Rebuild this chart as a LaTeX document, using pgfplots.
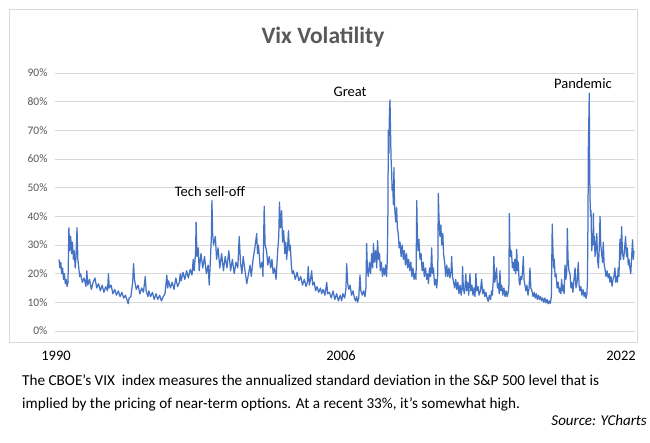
\documentclass[border=0pt]{standalone}
\usepackage{fontspec}
\setmainfont{Carlito}
\usepackage{pgfplots}
\usepackage{pgfplotstable}
\pgfplotsset{compat=1.18}
\definecolor{vixblue}{HTML}{4472C4}
\definecolor{gridgray}{HTML}{D9D9D9}
\definecolor{labgray}{HTML}{595959}
\pgfplotstableread[row sep=\\]{
x y\\
1990.00 25\\ 1990.05 22\\ 1990.10 24\\ 1990.15 20\\ 1990.20 22\\ 1990.25 18\\ 1990.30 20\\ 1990.35 16.5\\ 1990.40 18\\ 1990.45 15.5\\
1990.50 17\\ 1990.55 36\\ 1990.60 28\\ 1990.65 33\\ 1990.70 27\\ 1990.75 31\\ 1990.80 25\\ 1990.85 28\\ 1990.90 22\\ 1990.95 26\\
1991.00 36\\ 1991.05 25\\ 1991.10 22\\ 1991.15 19\\ 1991.20 20\\ 1991.30 17\\ 1991.40 18.5\\ 1991.50 15.5\\ 1991.55 21\\ 1991.60 16\\
1991.70 18\\ 1991.80 14.5\\ 1991.90 17\\ 1992.00 18.5\\ 1992.10 15\\ 1992.20 16.5\\ 1992.30 14\\ 1992.40 16\\ 1992.50 13.5\\ 1992.60 15.5\\
1992.70 14\\ 1992.75 20\\ 1992.80 15\\ 1992.90 16\\ 1993.00 13\\ 1993.10 14.5\\ 1993.20 12.5\\ 1993.30 14\\ 1993.40 12\\ 1993.50 13.5\\
1993.60 11.5\\ 1993.70 12.5\\ 1993.80 10.5\\ 1993.85 9.5\\ 1993.90 11.5\\ 1994.00 12\\ 1994.10 17\\ 1994.15 23.5\\ 1994.20 18\\ 1994.30 14.5\\
1994.40 16\\ 1994.50 13\\ 1994.60 15\\ 1994.70 13.5\\ 1994.80 19\\ 1994.85 14\\ 1994.95 12\\ 1995.00 14\\ 1995.10 12\\ 1995.20 13.5\\
1995.30 11\\ 1995.40 13\\ 1995.50 11\\ 1995.60 12.5\\ 1995.70 10.5\\ 1995.80 12\\ 1995.90 13\\ 1996.00 19.5\\ 1996.05 15\\ 1996.10 17.5\\
1996.20 15\\ 1996.30 17\\ 1996.40 14.5\\ 1996.50 18.5\\ 1996.60 15.5\\ 1996.70 17\\ 1996.75 20\\ 1996.80 17.5\\ 1996.90 20.5\\ 1997.00 18\\
1997.10 21\\ 1997.20 18.5\\ 1997.30 21.5\\ 1997.40 19.5\\ 1997.47 25\\ 1997.52 21\\ 1997.60 27\\ 1997.63 38\\ 1997.68 26\\ 1997.75 29\\
1997.80 21\\ 1997.90 27\\ 1998.00 22\\ 1998.10 26\\ 1998.20 20\\ 1998.30 23\\ 1998.36 16\\ 1998.42 24\\ 1998.48 33\\ 1998.51 45.5\\
1998.55 34\\ 1998.60 30\\ 1998.70 33\\ 1998.77 25\\ 1998.85 29\\ 1998.95 22\\ 1999.05 27\\ 1999.15 21\\ 1999.25 26\\ 1999.35 22\\
1999.45 28\\ 1999.55 21\\ 1999.65 25\\ 1999.75 20\\ 1999.85 24\\ 1999.95 22\\ 2000.03 33\\ 2000.10 24\\ 2000.18 20\\ 2000.25 26\\
2000.35 21\\ 2000.45 16.5\\ 2000.55 20\\ 2000.63 23\\ 2000.70 19\\ 2000.80 25\\ 2000.90 29\\ 2001.00 34\\ 2001.05 27\\ 2001.10 30\\
2001.20 22\\ 2001.30 24\\ 2001.35 19\\ 2001.42 43.5\\ 2001.47 30\\ 2001.55 28\\ 2001.62 23\\ 2001.70 26\\ 2001.78 22\\ 2001.85 25\\
2001.92 20\\ 2002.00 22\\ 2002.08 18\\ 2002.17 28\\ 2002.23 33\\ 2002.27 45\\ 2002.32 36\\ 2002.39 42\\ 2002.44 31\\ 2002.50 35\\
2002.57 27\\ 2002.62 31\\ 2002.67 25\\ 2002.73 30\\ 2002.77 35\\ 2002.82 28\\ 2002.87 30\\ 2002.93 23\\ 2002.98 20\\ 2003.05 21\\
2003.15 18\\ 2003.25 20.5\\ 2003.35 17.5\\ 2003.45 19\\ 2003.55 16\\ 2003.65 18\\ 2003.75 15.5\\ 2003.82 17\\ 2003.87 22.5\\ 2003.93 16\\
2004.00 18\\ 2004.06 21\\ 2004.12 16\\ 2004.20 17\\ 2004.28 14\\ 2004.36 15.5\\ 2004.45 13.5\\ 2004.55 15\\ 2004.62 13\\ 2004.70 14.5\\
2004.80 12.5\\ 2004.90 17\\ 2004.95 13\\ 2005.05 13.5\\ 2005.15 11.5\\ 2005.25 14\\ 2005.35 11\\ 2005.45 13\\ 2005.55 10.5\\ 2005.65 12.5\\
2005.73 10.5\\ 2005.80 13\\ 2005.90 11.5\\ 2005.97 15\\ 2006.01 23.5\\ 2006.06 17\\ 2006.12 14.5\\ 2006.20 16\\ 2006.28 12.5\\ 2006.36 14\\
2006.44 11.5\\ 2006.50 10.5\\ 2006.56 12\\ 2006.62 10\\ 2006.68 11.5\\ 2006.75 19.5\\ 2006.80 14\\ 2006.88 12.5\\ 2006.95 14\\ 2007.03 12\\
2007.08 15\\ 2007.12 30.5\\ 2007.16 22\\ 2007.21 19\\ 2007.28 24\\ 2007.34 20\\ 2007.40 27\\ 2007.46 22\\ 2007.50 30.5\\ 2007.55 24\\
2007.62 28\\ 2007.68 22\\ 2007.73 31.5\\ 2007.78 25\\ 2007.84 27\\ 2007.88 21\\ 2007.94 24\\ 2008.00 19\\ 2008.06 22\\ 2008.12 19.5\\
2008.18 23\\ 2008.23 19\\ 2008.27 25\\ 2008.30 38\\ 2008.33 70\\ 2008.36 62\\ 2008.39 77\\ 2008.42 80.6\\ 2008.45 70\\ 2008.48 60\\
2008.51 56\\ 2008.54 49\\ 2008.57 51\\ 2008.61 44\\ 2008.64 57\\ 2008.67 45\\ 2008.70 41\\ 2008.74 38\\ 2008.79 43\\ 2008.83 36\\
2008.88 34\\ 2008.93 29\\ 2008.98 31\\ 2009.04 26\\ 2009.10 30\\ 2009.16 25\\ 2009.22 28\\ 2009.28 23\\ 2009.34 27\\ 2009.40 22\\
2009.46 25\\ 2009.52 21\\ 2009.58 24\\ 2009.64 19\\ 2009.70 22\\ 2009.76 18\\ 2009.82 20\\ 2009.87 18\\ 2009.91 45.5\\ 2009.94 34\\
2009.98 28\\ 2010.03 32\\ 2010.09 25\\ 2010.15 27\\ 2010.21 21\\ 2010.27 24\\ 2010.33 19\\ 2010.40 22\\ 2010.46 18\\ 2010.52 20\\
2010.56 16.5\\ 2010.62 22\\ 2010.68 19\\ 2010.74 29\\ 2010.78 20\\ 2010.84 22\\ 2010.90 16\\ 2010.96 18\\ 2011.02 15\\ 2011.08 20\\
2011.11 48\\ 2011.15 39\\ 2011.20 33\\ 2011.25 37\\ 2011.30 30\\ 2011.36 34\\ 2011.40 27\\ 2011.46 24\\ 2011.52 19\\ 2011.58 23\\
2011.64 19\\ 2011.70 22\\ 2011.76 18.5\\ 2011.82 21\\ 2011.85 26\\ 2011.90 19\\ 2011.96 17\\ 2012.02 15\\ 2012.08 18\\ 2012.14 14.5\\
2012.20 17\\ 2012.26 13\\ 2012.32 16\\ 2012.38 12.5\\ 2012.43 15\\ 2012.46 22.5\\ 2012.50 15\\ 2012.56 13\\ 2012.60 16\\ 2012.64 20\\
2012.68 14\\ 2012.74 17\\ 2012.80 12.5\\ 2012.87 20\\ 2012.92 14\\ 2012.98 16\\ 2013.04 12.5\\ 2013.10 15\\ 2013.15 12\\ 2013.20 20\\
2013.25 14\\ 2013.32 15.5\\ 2013.38 12.5\\ 2013.45 14\\ 2013.52 18\\ 2013.58 13\\ 2013.64 14.5\\ 2013.70 12\\ 2013.76 13.5\\ 2013.82 11.5\\
2013.89 10.3\\ 2013.95 12.5\\ 2014.02 11\\ 2014.07 14\\ 2014.12 12.5\\ 2014.17 18\\ 2014.20 26\\ 2014.25 17\\ 2014.30 19\\ 2014.35 22\\
2014.40 15\\ 2014.45 16.5\\ 2014.50 13\\ 2014.54 21\\ 2014.58 14\\ 2014.64 16\\ 2014.70 12.5\\ 2014.76 15\\ 2014.82 12\\ 2014.88 14\\
2014.94 12\\ 2015.00 13.5\\ 2015.04 16\\ 2015.06 41\\ 2015.09 30\\ 2015.13 26\\ 2015.18 28\\ 2015.23 22\\ 2015.28 24\\ 2015.33 21\\
2015.37 25\\ 2015.42 20\\ 2015.47 28.5\\ 2015.52 21\\ 2015.56 24\\ 2015.61 17\\ 2015.65 16\\ 2015.70 19\\ 2015.75 18\\ 2015.80 21\\
2015.84 26\\ 2015.88 18\\ 2015.93 16\\ 2015.98 14\\ 2016.04 16\\ 2016.10 12.5\\ 2016.16 15\\ 2016.21 22\\ 2016.26 15\\ 2016.32 14\\
2016.38 12\\ 2016.44 13.5\\ 2016.50 11.5\\ 2016.56 13\\ 2016.62 11\\ 2016.68 12.5\\ 2016.74 11\\ 2016.80 12\\ 2016.86 10.5\\ 2016.92 11.5\\
2016.98 10\\ 2017.04 11.5\\ 2017.10 9.8\\ 2017.16 11\\ 2017.22 9.5\\ 2017.28 10.5\\ 2017.34 9.6\\ 2017.40 12\\ 2017.45 37.3\\ 2017.49 28\\
2017.53 22\\ 2017.56 25\\ 2017.61 19\\ 2017.66 20\\ 2017.72 15\\ 2017.78 17\\ 2017.84 13.5\\ 2017.88 15\\ 2017.93 13\\ 2017.97 18\\
2018.02 14\\ 2018.06 16\\ 2018.11 13\\ 2018.16 23\\ 2018.21 18\\ 2018.26 21\\ 2018.29 35.8\\ 2018.33 25\\ 2018.38 21\\ 2018.44 20\\
2018.49 15\\ 2018.55 17\\ 2018.60 13.5\\ 2018.66 18\\ 2018.72 22\\ 2018.77 15\\ 2018.83 17\\ 2018.90 24\\ 2018.94 16\\ 2018.99 14\\
2019.04 15.5\\ 2019.10 12.5\\ 2019.16 14.5\\ 2019.22 12\\ 2019.28 13.5\\ 2019.33 11.4\\ 2019.38 13\\ 2019.41 18\\ 2019.44 40\\ 2019.46 64\\
2019.49 75\\ 2019.51 82.9\\ 2019.53 60\\ 2019.55 47\\ 2019.58 40\\ 2019.61 42\\ 2019.63 33\\ 2019.65 28\\ 2019.68 32\\ 2019.71 30\\
2019.74 41\\ 2019.77 30\\ 2019.80 33\\ 2019.83 26\\ 2019.88 29\\ 2019.93 34\\ 2019.97 25\\ 2020.02 22\\ 2020.06 28\\ 2020.11 40\\
2020.15 30\\ 2020.20 27\\ 2020.25 24\\ 2020.29 31\\ 2020.34 23\\ 2020.38 22\\ 2020.44 19\\ 2020.50 21\\ 2020.56 18.5\\ 2020.62 20\\
2020.66 17\\ 2020.72 19\\ 2020.78 15.6\\ 2020.83 18\\ 2020.88 19\\ 2020.94 22\\ 2020.98 17\\ 2021.03 19\\ 2021.08 17\\ 2021.12 22\\
2021.16 19\\ 2021.22 32\\ 2021.26 25\\ 2021.31 36.4\\ 2021.36 27\\ 2021.42 25\\ 2021.47 28\\ 2021.53 33\\ 2021.58 26\\ 2021.63 29\\
2021.68 23\\ 2021.72 25\\ 2021.77 22\\ 2021.82 20\\ 2021.87 26\\ 2021.92 31.8\\ 2021.96 25\\ 2022.00 28\\
}\vixdata
\begin{document}
\begin{tikzpicture}
\useasboundingbox (0pt,0pt) rectangle (650pt,443pt);
\draw[gridgray, line width=0.8pt] (9pt,101pt) rectangle (637pt,434pt);
\node[text=labgray, font=\fontsize{23.5}{27}\selectfont\bfseries] at (323pt,406pt) {Vix Volatility};
\begin{axis}[
  at={(55pt,112pt)}, anchor=south west, scale only axis,
  width=580pt, height=258pt,
  xmin=1989.777, xmax=2022.056, ymin=0, ymax=90,
  axis line style={draw=none},
  ytick={0,10,...,90}, xtick=\empty,
  yticklabel={\pgfmathprintnumber{\tick}\%},
  /pgf/number format/assume math mode=true,
  ymajorgrids, grid style={gridgray, line width=0.8pt},
  major tick length=0pt,
  yticklabel style={font=\fontsize{11.5}{13}\selectfont, text=labgray, xshift=-4pt},
  clip=false,
]
\addplot[vixblue, line width=1.25pt, line join=round] table[x=x, y=y] {\vixdata};
\node[font=\fontsize{14.5}{16}\selectfont] at (axis cs:1998.4,48.8) {Tech sell-off};
\node[font=\fontsize{14.5}{16}\selectfont] at (axis cs:2006.2,83.4) {Great};
\node[font=\fontsize{14.5}{16}\selectfont] at (axis cs:2019.16,86.5) {Pandemic};
\end{axis}
\node[font=\fontsize{14.5}{16}\selectfont] at (56pt,87pt) {1990};
\node[font=\fontsize{14.5}{16}\selectfont] at (341pt,87pt) {2006};
\node[font=\fontsize{14.5}{16}\selectfont] at (621pt,87pt) {2022};
\node[anchor=base west, font=\fontsize{15.2}{17}\selectfont, inner sep=0pt] at (22pt,57pt) {The CBOE's VIX\ \ index measures the annualized standard deviation in the S\&P 500 level that is};
\node[anchor=base west, font=\fontsize{15.2}{17}\selectfont, inner sep=0pt] at (22pt,34pt) {implied by the pricing of near-term options. At a recent 33\%, it's somewhat high.};
\node[anchor=base east, font=\fontsize{15}{17}\selectfont\itshape, inner sep=0pt] at (647pt,17pt) {Source: YCharts};
\end{tikzpicture}
\end{document}
